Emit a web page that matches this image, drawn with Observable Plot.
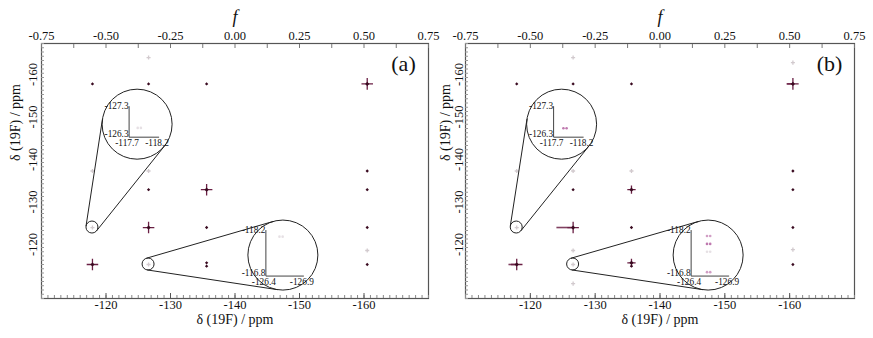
<!DOCTYPE html>
<html><head><meta charset="utf-8">
<script src="https://cdn.jsdelivr.net/npm/d3@7"></script>
<script src="https://cdn.jsdelivr.net/npm/@observablehq/plot@0.6"></script>
<style>
body{margin:0;background:#fff;}
#wrap{display:flex;width:873px;height:338px;overflow:hidden;background:#fff;}
#wrap svg{flex:none;overflow:visible;background:transparent !important;}
#wrap svg text{font-family:'Liberation Serif','Times New Roman',serif !important;}
</style></head><body><div id="wrap"></div>
<script>
// ---------- data ----------
const fTicks = [-0.75, -0.5, -0.25, 0, 0.25, 0.5, 0.75];
const fMinorTicks = [-0.625, -0.375, -0.125, 0.125, 0.375, 0.625];
const ppmTicks = [-120, -130, -140, -150, -160];
const ppmMinorTicks = d3.range(-110, -170.5, -1);
const panelLabels = ["(a)", "(b)"];
const axisTitle = "δ (19F) / ppm";

// panel (a) peaks: F1 (x, ppm), F2 (y, ppm), intensity class
const peaksAX = [-117.9,-126.6,-135.6,-160.5,-126.6,-117.9,-126.6,-160.5,-126.6,-135.6,-160.5,-126.6,-135.6,-160.5,-117.9,-135.6,-135.6,-160.5,-160.5,-117.9,-126.6];
const peaksAY = [-160.5,-160.5,-160.5,-160.5,-166.7,-140.0,-140.0,-140.0,-135.6,-135.6,-135.6,-126.7,-126.7,-126.7,-118.0,-118.4,-117.6,-118.0,-121.3,-126.7,-118.0];
const peaksAI = [2,2,2,4,1,1,1,2,2,4,2,4,2,2,4,2,2,2,1,1,1];

// panel (b) peaks, with leftward tail length (ppm)
const peaksBX = [-117.9,-126.6,-135.6,-160.5,-126.6,-160.5,-117.9,-126.6,-135.6,-160.5,-126.6,-135.6,-160.5,-126.6,-135.6,-160.5,-117.9,-135.6,-135.6,-160.5,-126.6,-160.5,-126.6,-117.9,-126.6];
const peaksBY = [-160.5,-160.5,-160.5,-160.5,-166.7,-165.5,-140.0,-140.0,-140.0,-140.0,-135.6,-135.6,-135.6,-126.7,-126.7,-126.7,-118.0,-118.4,-117.6,-118.0,-121.3,-121.5,-113.5,-126.7,-118.0];
const peaksBI = [2,2,2,4,1,1,1,1,1,2,2,3,2,4,2,2,4,3,2,2,1,1,1,1,1];
const peaksBTail = [0,0,0,0.9,0,0,0,0,0,0,0,0,0,2.5,0,0,1.2,0,0,0,0,0,0,0,0];

// magnifier insets: zoomed spot (ppm), lens centre (ppm), lens axis ranges (ppm)
const insetSpotX = [-117.9, -126.6];
const insetSpotY = [-126.7, -118.0];
const insetLensX = [-124.9, -147.5];
const insetLensY = [-150.9, -120.1];
const insetXDomains = [[-117.7, -118.2], [-126.4, -126.9]];
const insetYDomains = [[-127.3, -126.3], [-118.2, -116.8]];
const insetXLabels = [["-117.7", "-118.2"], ["-126.4", "-126.9"]];
const insetYLabels = [["-127.3", "-126.3"], ["-118.2", "-116.8"]];

// peaks seen inside the lenses: inset index, x, y, intensity
const lensPeaksAK = [0, 1];
const lensPeaksAX = [-117.87, -126.6];
const lensPeaksAY = [-126.6, -118.0];
const lensPeaksAI = [1, 1];
const lensPeaksBK = [0, 1, 1, 1, 1];
const lensPeaksBX = [-117.89, -126.63, -126.63, -126.63, -126.63];
const lensPeaksBY = [-126.59, -118.02, -117.78, -117.54, -116.92];
const lensPeaksBI = [3, 2, 3, 1, 2];

// ---------- helpers ----------
const FONT = "'Liberation Serif','Times New Roman',serif";
const PEAK = "#6b2045";
const CORE = "#3a0a20";
const fToPpm = f => -140 - 40 * f;
const zip = (xs, ys, is, ts) => xs.map((x, k) => ({x, y: ys[k], i: is[k], t: ts ? ts[k] : 0}));
const zipK = (ks, xs, ys, is) => ks.map((k, j) => ({k, x: xs[j], y: ys[j], i: is[j]}));

// lens layout (pixels relative to lens centre) - styling
const LENS_R = 35, SPOT_R = 6;
const LENS_AXES = [{l: -8, r: 22, t: -18, b: 13}, {l: -17, r: 21, t: -25, b: 21}];

function lensMark(lensPeaks, lensColor) {
  return (index, scales) => {
    const {x, y} = scales;
    const g = d3.create("svg:g").attr("font-family", FONT).attr("font-size", 9.3).attr("fill", "#111");
    insetSpotX.forEach((_, k) => {
      const c1 = [x(insetSpotX[k]), y(insetSpotY[k])];
      const c2 = [x(insetLensX[k]), y(insetLensY[k])];
      const dx = c2[0] - c1[0], dy = c2[1] - c1[1], D = Math.hypot(dx, dy);
      const ux = dx / D, uy = dy / D, vx = -uy, vy = ux;
      const a = (SPOT_R - LENS_R) / D, b = Math.sqrt(1 - a * a);
      for (const s of [1, -1]) {
        const nx = a * ux + s * b * vx, ny = a * uy + s * b * vy;
        g.append("line")
          .attr("x1", c1[0] + SPOT_R * nx).attr("y1", c1[1] + SPOT_R * ny)
          .attr("x2", c2[0] + LENS_R * nx).attr("y2", c2[1] + LENS_R * ny)
          .attr("stroke", "#222").attr("stroke-width", 1);
      }
      g.append("circle").attr("cx", c1[0]).attr("cy", c1[1]).attr("r", SPOT_R)
        .attr("fill", "none").attr("stroke", "#222").attr("stroke-width", 1);
      g.append("circle").attr("cx", c2[0]).attr("cy", c2[1]).attr("r", LENS_R)
        .attr("fill", "none").attr("stroke", "#222").attr("stroke-width", 1);
      const L = LENS_AXES[k];
      const xs = d3.scaleLinear(insetXDomains[k], [c2[0] + L.l, c2[0] + L.r]);
      const ys = d3.scaleLinear(insetYDomains[k], [c2[1] + L.t, c2[1] + L.b]);
      const x0 = xs(insetXDomains[k][0]), x1 = xs(insetXDomains[k][1]);
      const y0 = ys(insetYDomains[k][0]), y1 = ys(insetYDomains[k][1]);
      g.append("path").attr("d", `M${x0},${y0}V${y1}H${x1}`)
        .attr("fill", "none").attr("stroke", "#444").attr("stroke-width", 1);
      g.append("text").attr("x", x0 - 0.5).attr("y", y0 + 1).attr("text-anchor", "end")
        .attr("dominant-baseline", "middle").text(insetYLabels[k][0]);
      g.append("text").attr("x", x0 - 0.5).attr("y", y1 - 2).attr("text-anchor", "end")
        .attr("dominant-baseline", "middle").text(insetYLabels[k][1]);
      g.append("text").attr("x", x0 - 2).attr("y", y1 + 7).attr("text-anchor", "middle")
        .attr("dominant-baseline", "middle").text(insetXLabels[k][0]);
      g.append("text").attr("x", x1 - 2).attr("y", y1 + 7).attr("text-anchor", "middle")
        .attr("dominant-baseline", "middle").text(insetXLabels[k][1]);
      lensPeaks.filter(p => p.k === k).forEach(p => {
        const px = xs(p.x), py = ys(p.y);
        const col = p.i === 1 ? "#d8d0d6" : lensColor;
        const op = p.i === 3 ? 0.9 : 0.65;
        g.append("circle").attr("cx", px - 1.6).attr("cy", py).attr("r", 1.3).attr("fill", col).attr("fill-opacity", op);
        g.append("circle").attr("cx", px + 1.6).attr("cy", py).attr("r", 1.3).attr("fill", col).attr("fill-opacity", op);
      });
    });
    return g.node();
  };
}

function panel(label, peaks, lensPeaks, lensColor, width, marginLeft, marginRight, tickDx, titleDx) {
  const txt = {fontFamily: FONT, fill: "#111"};
  const peakR = i => [0, 1.4, 0, 2.8, 3.8][i];
  const peakCol = i => i === 1 ? "#d2cace" : PEAK;
  return Plot.plot({
    width, height: 338,
    marginTop: 43, marginBottom: 40, marginLeft, marginRight,
    x: {domain: [-110, -170], label: null},
    y: {domain: [-110, -170], label: null},
    r: {type: "identity"},
    style: {fontFamily: FONT, background: "transparent", overflow: "visible"},
    marks: [
      Plot.frame({stroke: "#555", strokeWidth: 1.2}),
      Plot.axisX(ppmMinorTicks, {anchor: "bottom", tickSize: -3, tickFormat: () => "", stroke: "#888", label: null}),
      Plot.axisX(ppmTicks, {anchor: "bottom", tickSize: -5, tickFormat: () => "", stroke: "#555", label: null}),
      Plot.axisY(ppmMinorTicks, {anchor: "left", tickSize: -3, tickFormat: () => "", stroke: "#999", label: null}),
      Plot.axisX(fTicks.concat(fMinorTicks).map(fToPpm), {anchor: "top", tickSize: -4, tickFormat: () => "", stroke: "#777", label: null}),
      Plot.text(ppmTicks, {x: d => d, frameAnchor: "bottom", dy: 10.5, text: d => String(d), fontSize: 12.5, ...txt}),
      Plot.text(fTicks, {x: fToPpm, frameAnchor: "top", dy: -12, text: d => d.toFixed(2), fontSize: 12.5, ...txt}),
      Plot.text(ppmTicks, {y: d => d, frameAnchor: "left", dx: tickDx, rotate: -90, text: d => String(d), fontSize: 12.5, ...txt}),
      Plot.text([axisTitle], {frameAnchor: "bottom", dy: 25, text: d => d, fontSize: 14, ...txt}),
      Plot.text([axisTitle], {frameAnchor: "left", dx: titleDx, dy: -10, rotate: -90, text: d => d, fontSize: 14, ...txt}),
      Plot.text(["f"], {frameAnchor: "top", dy: -33, text: d => d, fontSize: 18, fontStyle: "italic", ...txt}),
      Plot.text([label], {frameAnchor: "top-right", dx: -25, dy: 20, textAnchor: "middle", lineAnchor: "middle", text: d => d, fontSize: 22, ...txt}),
      Plot.ruleY(peaks.filter(p => p.t > 0), {y: "y", x1: "x", x2: d => d.x + d.t, stroke: PEAK, strokeWidth: 1.6, strokeOpacity: 0.85}),
      Plot.dot(peaks.filter(p => p.i !== 2), {x: "x", y: "y", symbol: "plus", r: d => peakR(d.i), stroke: d => peakCol(d.i), strokeWidth: 1.3}),
      Plot.dot(peaks.filter(p => p.i > 1), {x: "x", y: "y", symbol: "diamond2", r: d => d.i === 2 ? 1.5 : 1.9, fill: CORE, stroke: null}),
      lensMark(lensPeaks, lensColor)
    ]
  });
}

const wrap = document.getElementById("wrap");
wrap.append(panel(panelLabels[0], zip(peaksAX, peaksAY, peaksAI), zipK(lensPeaksAK, lensPeaksAX, lensPeaksAY, lensPeaksAI), "#bbb", 436, 41, 8, -9, -26));
wrap.append(panel(panelLabels[1], zip(peaksBX, peaksBY, peaksBI, peaksBTail), zipK(lensPeaksBK, lensPeaksBX, lensPeaksBY, lensPeaksBI), "#b86aa6", 437, 29, 19, -7, -20));
</script></body></html>
